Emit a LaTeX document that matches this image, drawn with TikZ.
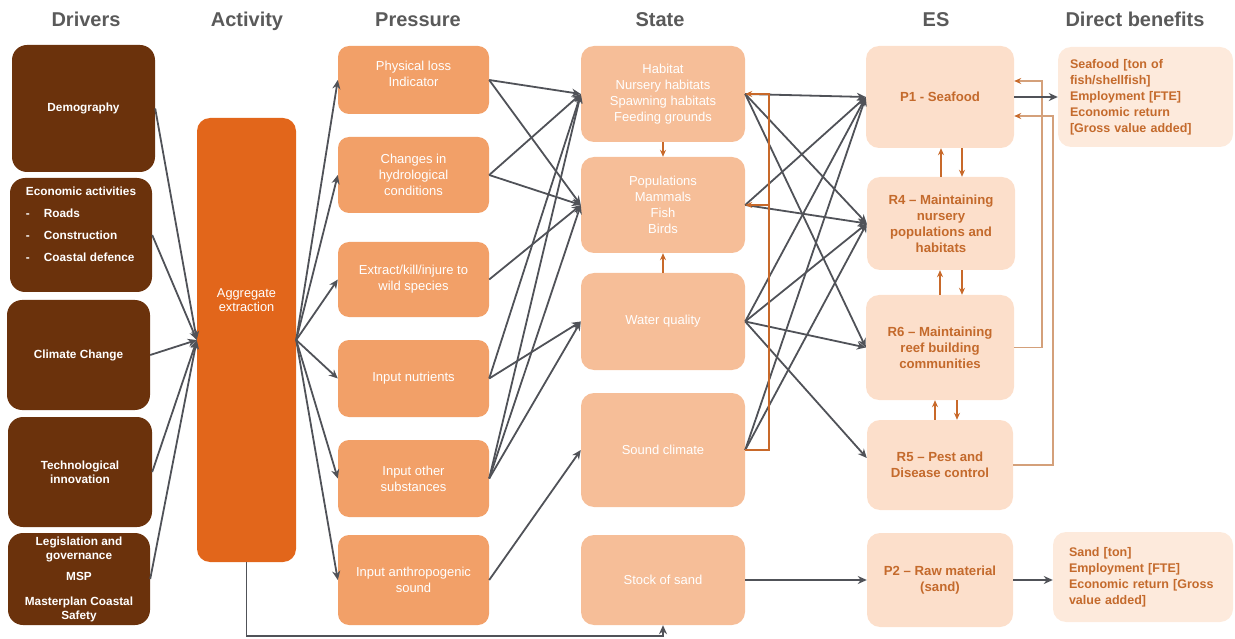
\documentclass[tikz,border=0pt]{standalone}
\usepackage{fontspec}
\setmainfont{Liberation Sans}
\usetikzlibrary{arrows.meta,calc}
\definecolor{drv}{HTML}{6B320C}
\definecolor{actc}{HTML}{E2661B}
\definecolor{prs}{HTML}{F2A068}
\definecolor{sta}{HTML}{F6BE98}
\definecolor{esc}{HTML}{FCDFCB}
\definecolor{ben}{HTML}{FDEADC}
\definecolor{estx}{HTML}{C46A2C}
\definecolor{ln}{HTML}{505258}
\definecolor{orl}{HTML}{C8692A}
\definecolor{tanl}{HTML}{D4A07A}
\definecolor{hd}{HTML}{5A5A5A}
\begin{document}
\begin{tikzpicture}[x=1pt,y=-1pt,
  sz/.style 2 args={minimum width=#1pt, minimum height=#2pt},
  box/.style={rounded corners=11pt, inner sep=2pt, align=center, draw=none},
  drvbox/.style={box, fill=drv, text=white, rounded corners=15pt, font=\fontsize{11.8}{14}\selectfont\bfseries},
  actbox/.style={box, fill=actc, text=white, rounded corners=13pt, font=\fontsize{12.8}{14}\selectfont},
  prsbox/.style={box, fill=prs, text=white, font=\fontsize{13}{16}\selectfont},
  stabox/.style={box, fill=sta, text=white, rounded corners=13pt, font=\fontsize{13}{16}\selectfont},
  esbox/.style={box, fill=esc, text=estx, rounded corners=13pt, font=\fontsize{13.2}{16}\selectfont\bfseries},
  benbox/.style={box, fill=ben, text=estx, align=left, rounded corners=13pt, font=\fontsize{12.5}{16}\selectfont\bfseries},
  head/.style={text=hd, anchor=base, font=\fontsize{20}{22}\selectfont\bfseries},
  conn/.style={draw=ln, line width=1.8pt, -{Stealth[length=9pt,width=8pt]}},
  oconn/.style={draw=orl, line width=1.5pt, -{Stealth[length=7pt,width=6pt]}},
  fb/.style={draw=tanl, line width=1.5pt, -{Stealth[length=7pt,width=6pt,color=orl]}},
]
\useasboundingbox (0,0) rectangle (1235,639);
% headings
\node[head] (h1) at (86,27) {Drivers};
\node[head] (h2) at (247,27) {Activity};
\node[head] (h3) at (418,27) {Pressure};
\node[head] (h4) at (660,27) {State};
\node[head] (h5) at (936,27) {ES};
\node[head] (h6) at (1135,27) {Direct benefits};
% drivers
\node[drvbox, sz={143}{127}] (dem) at (83.5,108.5) {Demography};
\node[drvbox, sz={142}{114}, align=left, text depth=22pt] (eco) at (81,235) {Economic activities\\[8pt]\makebox[18pt][l]{-}Roads\\[8pt]\makebox[18pt][l]{-}Construction\\[8pt]\makebox[18pt][l]{-}Coastal defence};
\node[drvbox, sz={143}{110}] (cli) at (78.5,355) {Climate Change};
\node[drvbox, sz={144}{110}] (tec) at (80,472) {Technological\\innovation};
\node[drvbox, sz={142}{92}] (leg) at (79,579) {Legislation and\\governance\\[7pt]MSP\\[11pt]Masterplan Coastal\\Safety};
% activity
\node[actbox, sz={99}{444}, text depth=80pt] (act) at (246.5,340) {Aggregate\\extraction};
% pressures
\node[prsbox, sz={151}{68}, text depth=12pt] (phy) at (413.5,80) {Physical loss\\Indicator};
\node[prsbox, sz={151}{76}] (chg) at (413.5,175) {Changes in\\hydrological\\conditions};
\node[prsbox, sz={151}{75}] (ext) at (413.5,279.5) {Extract/kill/injure to\\wild species};
\node[prsbox, sz={151}{77}] (nut) at (413.5,378.5) {Input nutrients};
\node[prsbox, sz={151}{77}] (oth) at (413.5,478.5) {Input other\\substances};
\node[prsbox, sz={151}{90}] (ant) at (413.5,580) {Input anthropogenic\\sound};
% states
\node[stabox, sz={164}{96}] (hab) at (663,94) {Habitat\\Nursery habitats\\Spawning habitats\\Feeding grounds};
\node[stabox, sz={164}{96}] (pop) at (663,205) {Populations\\Mammals\\Fish\\Birds};
\node[stabox, sz={164}{97}] (wq) at (663,321.5) {Water quality};
\node[stabox, sz={164}{114}] (snd) at (663,450) {Sound climate};
\node[stabox, sz={164}{90}] (sand) at (663,580) {Stock of sand};
% ecosystem services
\node[esbox, sz={148}{102}] (p1) at (940,97) {P1 - Seafood};
\node[esbox, sz={148}{93}] (r4) at (941,223.5) {R4 -- Maintaining\\nursery\\populations and\\habitats};
\node[esbox, sz={148}{105}] (r6) at (940,347.5) {R6 -- Maintaining\\reef building\\communities};
\node[esbox, sz={146}{90}] (r5) at (940,465) {R5 -- Pest and\\Disease control};
\node[esbox, sz={146}{94}] (p2) at (940,580) {P2 -- Raw material\\(sand)};
% benefits
\node[benbox, sz={175}{100}, inner xsep=12pt, text width=151pt] (b1) at (1145.5,97) {Seafood [ton of\\fish/shellfish]\\Employment [FTE]\\Economic return\\{[}Gross value added]};
\node[benbox, sz={180}{90}, inner xsep=16pt, text width=148pt] (b2) at (1143,577) {Sand [ton]\\Employment [FTE]\\Economic return [Gross\\value added]};
% drivers -> activity
\foreach \n in {dem,eco,cli,tec,leg} \draw[conn] (\n.east) -- (act.west);
% activity -> pressures
\foreach \n in {phy,chg,ext,nut,oth,ant} \draw[conn] (act.east) -- (\n.west);
% pressures -> states
\foreach \a/\b in {phy/hab,phy/pop,chg/hab,chg/pop,ext/pop,nut/hab,nut/wq,oth/hab,oth/pop,oth/wq,ant/snd}
  \draw[conn] (\a.east) -- (\b.west);
% states -> ES
\coordinate (r5in) at ($(r5.west)+(0,-7)$);
\foreach \a/\b in {hab/p1,hab/r4,hab/r6,pop/p1,pop/r4,wq/p1,wq/r4,wq/r6,wq/r5in,snd/p1,snd/r4}
  \draw[conn] (\a.east) -- (\b.west);
% bottom connector
\coordinate (bot) at (0,636);
\draw[conn] (act.south) -- (act.south |- bot) -| (sand.south);
% state internal orange arrows
\draw[oconn] (hab.south) -- (pop.north);
\draw[oconn] (wq.north) -- (pop.south);
\coordinate (br) at ($(snd.east)+(24,0)$);
\draw[oconn] (snd.east) -- (br) |- (hab.east);
\draw[oconn] (br |- pop.east) -- (pop.east);
% ES internal arrows
\draw[oconn] (r4.north) -- (r4.north |- p1.south);
\coordinate (a1) at ($(p1.south)+(22,0)$);
\draw[oconn] (a1) -- (a1 |- r4.north);
\draw[oconn] (r6.north) -- (r6.north |- r4.south);
\coordinate (a2) at ($(r4.south)+(21,0)$);
\draw[oconn] (a2) -- (a2 |- r6.north);
\coordinate (a3) at ($(r5.north)+(-5,0)$);
\draw[oconn] (a3) -- (a3 |- r6.south);
\coordinate (a4) at ($(r6.south)+(17,0)$);
\draw[oconn] (a4) -- (a4 |- r5.north);
% feedback to P1
\coordinate (p1a) at ($(p1.east)+(0,-16)$);
\coordinate (p1b) at ($(p1.east)+(0,19)$);
\coordinate (f1) at ($(r6.east)+(28,0)$);
\coordinate (f2) at ($(r5.east)+(40,0)$);
\draw[fb] (r6.east) -- (f1) |- (p1a);
\draw[fb] (r5.east) -- (f2) |- (p1b);
% ES -> benefits
\draw[conn] (p1.east) -- (p1.east -| b1.west);
\draw[conn] (sand.east) -- (p2.west);
\draw[conn] (p2.east) -- (p2.east -| b2.west);
\end{tikzpicture}
\end{document}
